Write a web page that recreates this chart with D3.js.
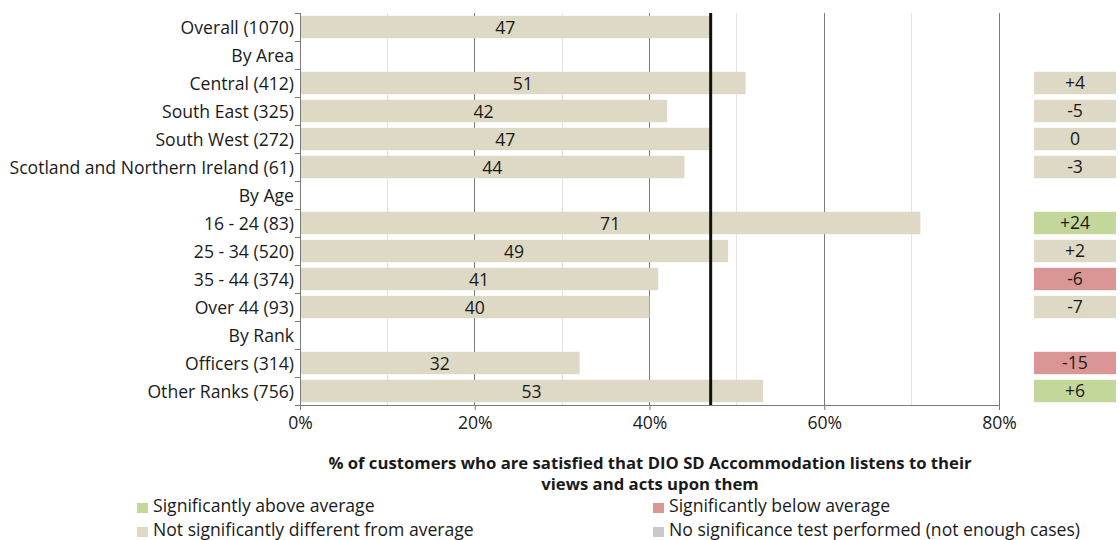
<!DOCTYPE html>
<html>
<head>
<meta charset="utf-8">
<script src="https://cdn.jsdelivr.net/npm/d3@7"></script>
<style>
  html, body { margin: 0; padding: 0; background: #fff; }
  svg { display: block; }
  text { font-family: "Open Sans", Lato, sans-serif; fill: #1a1a1a; }
</style>
</head>
<body>
<svg id="chart" width="1120" height="540"></svg>
<script>
// Row labels (group headers have no value)
const categories = [
  "Overall (1070)", "By Area", "Central (412)", "South East (325)", "South West (272)",
  "Scotland and Northern Ireland (61)", "By Age", "16 - 24 (83)", "25 - 34 (520)",
  "35 - 44 (374)", "Over 44 (93)", "By Rank", "Officers (314)", "Other Ranks (756)"
];
// % satisfied
const values = [47, null, 51, 42, 47, 44, null, 71, 49, 41, 40, null, 32, 53];
// difference from overall average
const diffs = [null, null, 4, -5, 0, -3, null, 24, 2, -6, -7, null, -15, 6];
// significance result for each row
const significance = [null, null, "none", "none", "none", "none", null, "above", "none", "below", "none", null, "below", "above"];
const xTicks = [0, 20, 40, 60, 80];
const minorTicks = [10, 30, 50, 70];
const averageValue = 47;
const axisTitle = ["% of customers who are satisfied that DIO SD Accommodation listens to their", "views and acts upon them"];
const legendItems = [
  { key: "above", label: "Significantly above average" },
  { key: "below", label: "Significantly below average" },
  { key: "none", label: "Not significantly different from average" },
  { key: "na", label: "No significance test performed (not enough cases)" }
];

const colours = { above: "#c4d79b", below: "#da9694", none: "#ddd9c4", na: "#c8c8c8" };
const barColour = "#ddd9c4";
const FS = 17.6;

const svg = d3.select("#chart");
const margin = { left: 300, top: 13 };
const plotW = 699, plotH = 392;
const g = svg.append("g").attr("transform", `translate(${margin.left},${margin.top})`);

const x = d3.scaleLinear().domain([0, 80]).range([0, plotW]);
const y = d3.scaleBand().domain(d3.range(categories.length)).range([0, plotH]).paddingInner(0.2).paddingOuter(0.1);
const step = y.step();

// gridlines
g.selectAll(".minor").data(minorTicks).join("line")
  .attr("x1", d => x(d)).attr("x2", d => x(d)).attr("y1", 0).attr("y2", plotH)
  .attr("stroke", "#e3e3e3").attr("stroke-width", 1).attr("shape-rendering", "crispEdges");
g.selectAll(".major").data(xTicks.slice(1)).join("line")
  .attr("x1", d => x(d)).attr("x2", d => x(d)).attr("y1", 0).attr("y2", plotH)
  .attr("stroke", "#7a7a7a").attr("stroke-width", 1).attr("shape-rendering", "crispEdges");

// bars
const rows = categories.map((c, i) => ({ i, c, v: values[i], d: diffs[i], s: significance[i] }));
const valued = rows.filter(r => r.v !== null);
g.selectAll(".bar").data(valued).join("rect")
  .attr("x", x(0)).attr("y", r => y(r.i))
  .attr("width", r => x(r.v) - x(0)).attr("height", y.bandwidth())
  .attr("fill", barColour);

g.selectAll(".val").data(valued).join("text")
  .attr("x", r => x(r.v / 2)).attr("y", r => y(r.i) + y.bandwidth() / 2)
  .attr("dy", "0.4em").attr("text-anchor", "middle").attr("font-size", FS)
  .text(r => r.v);

// average line
g.append("line")
  .attr("x1", x(averageValue)).attr("x2", x(averageValue)).attr("y1", 0).attr("y2", plotH)
  .attr("stroke", "#111").attr("stroke-width", 3);

// y axis with ticks on row boundaries
g.append("line").attr("x1", 0).attr("x2", 0).attr("y1", 0).attr("y2", plotH)
  .attr("stroke", "#7a7a7a").attr("shape-rendering", "crispEdges");
g.selectAll(".ytick").data(d3.range(categories.length + 1)).join("line")
  .attr("x1", -5).attr("x2", 0).attr("y1", i => i * step).attr("y2", i => i * step)
  .attr("stroke", "#7a7a7a").attr("shape-rendering", "crispEdges");
g.selectAll(".ylab").data(rows).join("text")
  .attr("x", -6).attr("y", r => y(r.i) + y.bandwidth() / 2)
  .attr("dy", "0.4em").attr("text-anchor", "end").attr("font-size", FS)
  .text(r => r.c);

// x axis
const xAxis = g.append("g").attr("transform", `translate(0,${plotH})`)
  .call(d3.axisBottom(x).tickValues(xTicks).tickFormat(d => d + "%").tickSize(5).tickSizeOuter(0));
xAxis.select(".domain").attr("stroke", "#7a7a7a");
xAxis.selectAll(".tick line").attr("stroke", "#7a7a7a");
xAxis.selectAll(".tick text").attr("font-size", FS).attr("font-family", "'Open Sans', sans-serif").attr("fill", "#1a1a1a").attr("dy", "0.9em");

// difference boxes
const boxX = 1034, boxW = 82;
const fmt = d => d > 0 ? "+" + d : String(d);
svg.selectAll(".box").data(valued.filter(r => r.d !== null)).join("rect")
  .attr("x", boxX).attr("y", r => margin.top + y(r.i))
  .attr("width", boxW).attr("height", y.bandwidth())
  .attr("fill", r => colours[r.s]);
svg.selectAll(".boxlab").data(valued.filter(r => r.d !== null)).join("text")
  .attr("x", boxX + boxW / 2).attr("y", r => margin.top + y(r.i) + y.bandwidth() / 2)
  .attr("dy", "0.36em").attr("text-anchor", "middle").attr("font-size", FS)
  .text(r => fmt(r.d));

// axis title
svg.selectAll(".title").data(axisTitle).join("text")
  .attr("x", 650).attr("y", (d, i) => 463 + i * 21)
  .attr("dy", "0.36em").attr("text-anchor", "middle")
  .attr("font-size", 16.7).attr("font-weight", "bold")
  .text(d => d);

// legend (positions are text baselines)
const legPos = [[137, 512], [653, 512], [137, 536], [653, 536]];
const leg = svg.selectAll(".leg").data(legendItems).join("g")
  .attr("transform", (d, i) => `translate(${legPos[i][0]},${legPos[i][1]})`);
leg.append("rect").attr("x", 0).attr("y", -9).attr("width", 11).attr("height", 10)
  .attr("fill", d => colours[d.key]);
leg.append("text").attr("x", 16).attr("font-size", FS).text(d => d.label);
</script>
</body>
</html>
